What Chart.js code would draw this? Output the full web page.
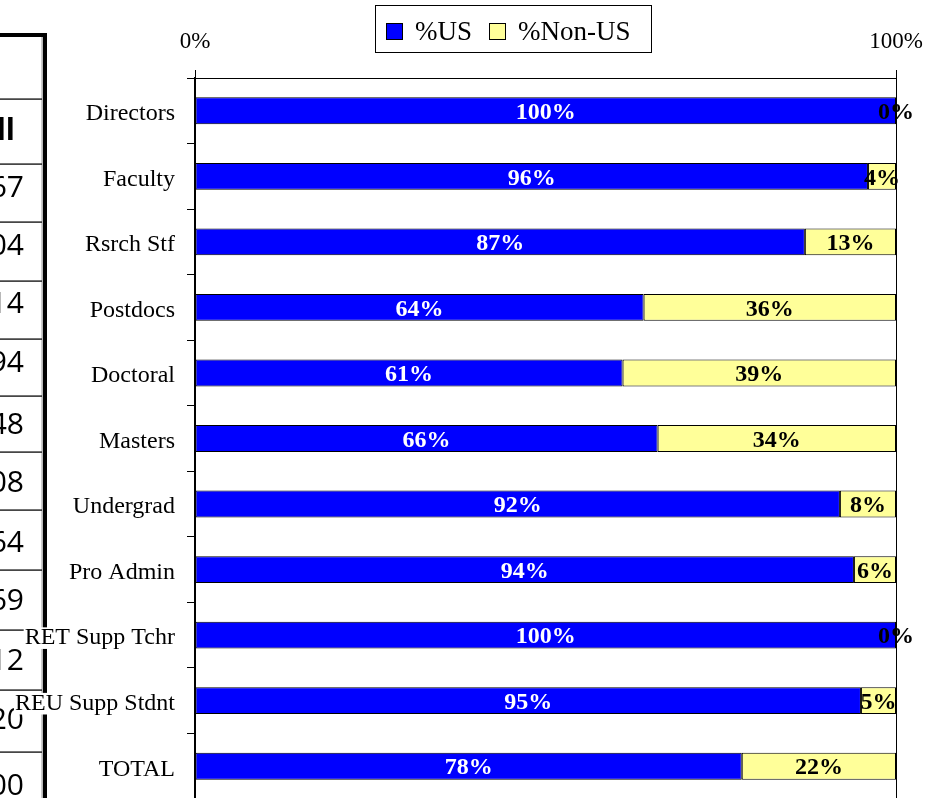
<!DOCTYPE html>
<html><head><meta charset="utf-8">
<script src="https://cdn.jsdelivr.net/npm/chart.js@4"></script>
<style>
html,body{margin:0;padding:0;overflow:hidden;background:#fff}
#wrap{position:relative;width:938px;height:802px}
</style></head><body>
<div id="wrap"><canvas id="c"></canvas></div>
<script>
// ---- data ----
const categories = ['Directors','Faculty','Rsrch Stf','Postdocs','Doctoral','Masters','Undergrad','Pro Admin','RET Supp Tchr','REU Supp Stdnt','TOTAL'];
const pctUS = [100,96,87,64,61,66,92,94,100,95,78];
const pctNonUS = [0,4,13,36,39,34,8,6,0,5,22];
const seriesNames = ['%US','%Non-US'];
const xTickValues = [0,100];
// cut-off table fragments on the left edge
const tableCells = ['','ll','67','04','14','94','48','08','64','69','12','20','00'];

// ---- layout / style ----
const SERIF = '"Liberation Serif","Times New Roman",serif';
const tableRowLines = [99,164,222,281,339,396,452,510,570,630,690,752];
const tableBaselines = [0,140,197,255,313,372,434,492,552,610,670,729,795];

const bgAndTable = {
  id:'bgAndTable',
  beforeDraw(chart){
    const ctx = chart.ctx, H = chart.height;
    ctx.save();
    ctx.fillStyle = '#fff'; ctx.fillRect(0,0,chart.width,H);
    ctx.fillStyle = '#9a9a9a'; ctx.fillRect(41.5,35,1.2,H);
    ctx.fillStyle = '#1a1a1a';
    tableRowLines.forEach(y => ctx.fillRect(0,y-0.6,42,1.4));
    ctx.fillStyle = '#000';
    ctx.fillRect(0,33,47,4);
    ctx.fillRect(43,33,4,H);
    ctx.textAlign = 'right'; ctx.textBaseline = 'alphabetic';
    tableCells.forEach((t,i) => {
      if (!t) return;
      if (i === 1) { ctx.font = 'bold 30px "Open Sans", sans-serif'; ctx.fillText(t,15,tableBaselines[i]); }
      else { ctx.font = '30px "Open Sans", sans-serif'; ctx.fillText(t,24,tableBaselines[i]); }
    });
    ctx.restore();
  }
};

const barLabels = {
  id:'barLabels',
  afterDatasetsDraw(chart){
    const ctx = chart.ctx;
    ctx.save();
    ctx.font = 'bold 24px ' + SERIF;
    ctx.textAlign = 'center'; ctx.textBaseline = 'middle';
    chart.data.datasets.forEach((ds,i) => {
      const meta = chart.getDatasetMeta(i);
      ctx.fillStyle = i === 0 ? '#fff' : '#000';
      meta.data.forEach((bar,j) => {
        const x = (bar.x + bar.base)/2;
        ctx.fillText(ds.data[j] + '%', x, bar.y + 2);
      });
    });
    ctx.restore();
  }
};

const boxLegend = {
  id:'boxLegend',
  afterDraw(chart){
    const ctx = chart.ctx;
    ctx.save();
    ctx.fillStyle = '#fff'; ctx.fillRect(375,5,277,48);
    ctx.strokeStyle = '#000'; ctx.lineWidth = 1; ctx.strokeRect(375.5,5.5,276,47);
    ctx.font = '27px ' + SERIF; ctx.textBaseline = 'alphabetic'; ctx.textAlign = 'left';
    let x = 386;
    chart.data.datasets.forEach(ds => {
      ctx.fillStyle = ds.backgroundColor; ctx.fillRect(x,23,17,17);
      ctx.strokeStyle = '#000'; ctx.strokeRect(x+0.5,23.5,16,16);
      ctx.fillStyle = '#000';
      ctx.fillText(ds.label, x+29, 40);
      x = x + 29 + ctx.measureText(ds.label).width + 17;
    });
    ctx.restore();
  }
};

new Chart(document.getElementById('c'), {
  type:'bar',
  data:{
    labels: categories,
    datasets:[
      {label:seriesNames[0], data:pctUS, backgroundColor:'#0000FF', borderColor:'#000', borderWidth:1, borderSkipped:false},
      {label:seriesNames[1], data:pctNonUS, backgroundColor:'#FFFF99', borderColor:'#000', borderWidth:1, borderSkipped:false}
    ]
  },
  options:{
    indexAxis:'y',
    responsive:true, maintainAspectRatio:false, animation:false,
    layout:{padding:{left:0,right:42,top:0,bottom:3}},
    datasets:{bar:{barPercentage:0.41, categoryPercentage:1}},
    plugins:{legend:{display:false}, tooltip:{enabled:false}},
    scales:{
      x:{
        position:'top', stacked:true, min:0, max:100,
        afterBuildTicks: s => { s.ticks = xTickValues.map(v => ({value:v})); },
        afterFit: s => { s.height = 78; s.paddingLeft = 0; s.paddingRight = 0; },
        ticks:{callback: v => v + '%', color:'#000', font:{family:SERIF, size:23}, padding:14, maxRotation:0},
        grid:{color:'#000', lineWidth:1, tickLength:8, drawOnChartArea:true},
        border:{color:'#000', width:1}
      },
      y:{
        stacked:true,
        afterFit: s => { s.width = 195; s.paddingTop = 0; s.paddingBottom = 0; },
        ticks:{color:'#000', font:{family:SERIF, size:24, lineHeight:0.9}, padding:12, labelOffset:3,
               showLabelBackdrop:true, backdropColor:'#fff', backdropPadding:{top:0,bottom:0,left:1,right:1}},
        grid:{color:'#000', lineWidth:1, tickLength:8, drawOnChartArea:false, offset:true},
        border:{color:'#000', width:1.5}
      }
    }
  },
  plugins:[bgAndTable, barLabels, boxLegend]
});
</script>
</body></html>
